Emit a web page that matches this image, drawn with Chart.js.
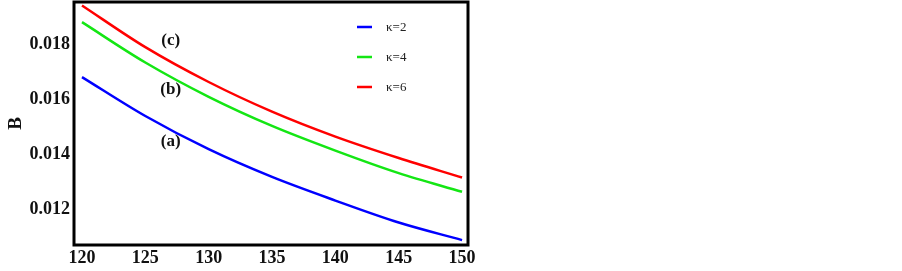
<!DOCTYPE html>
<html>
<head>
<meta charset="utf-8">
<script src="https://cdn.jsdelivr.net/npm/chart.js@4.4.1/dist/chart.umd.min.js"></script>
<style>
  html, body { margin: 0; padding: 0; background: #fff; }
  #wrap { width: 902px; height: 271px; position: relative; }
</style>
</head>
<body>
<div id="wrap"><canvas id="chart"></canvas></div>
<script>
// values
const xValues = [120, 125, 130, 135, 140, 145, 150];
const kappa2 = [0.01681, 0.01539, 0.01418, 0.01317, 0.01231, 0.01151, 0.01087];
const kappa4 = [0.01881, 0.01734, 0.01609, 0.01503, 0.01413, 0.01331, 0.01263];
const kappa6 = [0.01942, 0.01790, 0.01663, 0.01555, 0.01464, 0.01386, 0.01315];
const seriesNames = ['\u03BA=2', '\u03BA=4', '\u03BA=6'];
const seriesColors = ['rgb(0,0,255)', 'rgb(20,230,20)', 'rgb(255,0,0)'];
const xTicks = [120, 125, 130, 135, 140, 145, 150];
const yTicks = [0.012, 0.014, 0.016, 0.018];
const curveLabels = ['(a)', '(b)', '(c)'];
const curveLabelPos = [[127, 0.01444], [127, 0.01636], [127, 0.01815]];

const serif = "'Liberation Serif', 'DejaVu Serif', serif";

function toPoints(ys) {
    return xValues.map((x, i) => ({ x: x, y: ys[i] }));
}

const framePlugin = {
    id: 'frameAndText',
    afterDraw(chart) {
        const ctx = chart.ctx;
        const a = chart.chartArea;
        const xs = chart.scales.x, ys = chart.scales.y;
        ctx.save();
        // frame
        ctx.strokeStyle = '#000';
        ctx.lineWidth = 3;
        ctx.strokeRect(a.left, a.top, a.right - a.left, a.bottom - a.top);
        // curve labels
        ctx.fillStyle = '#111';
        ctx.font = 'bold 17px ' + serif;
        ctx.textAlign = 'center';
        ctx.textBaseline = 'middle';
        curveLabels.forEach((t, i) => {
            ctx.fillText(t, xs.getPixelForValue(curveLabelPos[i][0]), ys.getPixelForValue(curveLabelPos[i][1]));
        });
        // legend inside plot
        ctx.font = '13px ' + serif;
        ctx.textAlign = 'left';
        const lx = a.left + 283;
        seriesNames.forEach((name, i) => {
            const ly = a.top + 25 + i * 30;
            ctx.strokeStyle = seriesColors[i];
            ctx.lineWidth = 2.5;
            ctx.beginPath();
            ctx.moveTo(lx, ly);
            ctx.lineTo(lx + 15, ly);
            ctx.stroke();
            ctx.fillStyle = '#222';
            ctx.fillText(name, lx + 29, ly + 1);
        });
        ctx.restore();
    }
};

new Chart(document.getElementById('chart'), {
    type: 'line',
    data: {
        datasets: [kappa2, kappa4, kappa6].map((ys, i) => ({
            label: seriesNames[i],
            data: toPoints(ys),
            borderColor: seriesColors[i],
            borderWidth: 2.5,
            pointRadius: 0,
            fill: false,
            cubicInterpolationMode: 'monotone'
        }))
    },
    options: {
        responsive: true,
        maintainAspectRatio: false,
        animation: false,
        layout: { padding: { top: 2, right: 434, left: 0, bottom: 0 } },
        plugins: {
            legend: { display: false },
            tooltip: { enabled: false }
        },
        scales: {
            x: {
                type: 'linear',
                min: 119.37,
                max: 150.47,
                grid: { display: false, drawTicks: false },
                border: { display: false },
                afterBuildTicks: (scale) => { scale.ticks = xTicks.map(v => ({ value: v })); },
                afterFit: (scale) => {
                    scale.height = 26;
                    scale.paddingLeft = 0;
                    scale.paddingRight = 0;
                },
                ticks: {
                    padding: 3,
                    color: '#111',
                    maxRotation: 0,
                    font: { family: serif, size: 18, weight: 'bold' },
                    callback: (v) => String(v)
                }
            },
            y: {
                min: 0.010691,
                max: 0.019545,
                grid: { display: false, drawTicks: false },
                border: { display: false },
                afterBuildTicks: (scale) => { scale.ticks = yTicks.map(v => ({ value: v })); },
                afterFit: (scale) => {
                    scale.width = 74;
                    scale.paddingTop = 0;
                    scale.paddingBottom = 0;
                },
                title: {
                    display: true,
                    text: 'B',
                    color: '#111',
                    padding: { top: 5, bottom: 0 },
                    font: { family: serif, size: 19, weight: 'bold' }
                },
                ticks: {
                    padding: 4,
                    color: '#111',
                    font: { family: serif, size: 18, weight: 'bold' },
                    callback: (v) => v.toFixed(3)
                }
            }
        }
    },
    plugins: [framePlugin]
});
</script>
</body>
</html>
